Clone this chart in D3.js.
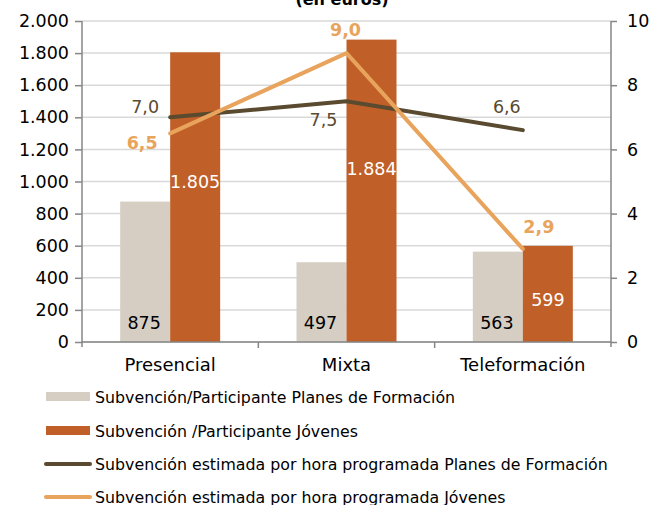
<!DOCTYPE html>
<meta charset="utf-8">
<html>
<head><title>subvención por participante</title>
    <script src="https://d3js.org/d3.v7.min.js"></script>
    <style>
        body { margin: 0; background: #fff; }
        text { font-family: "DejaVu Sans", Verdana, sans-serif; }
        .grid line { stroke: #d9d9d9; stroke-width: 1.5; }
        .axis path, .axis line { stroke: #868686; stroke-width: 1.5; }
        .axis text { font-size: 17.5px; fill: #000; }
    </style>
</head>
<body>
<div id="chart"></div>
<script>

    var W = 651, H = 505;

    // data
    var categories = ["Presencial", "Mixta", "Teleformación"];
    var partPlanes = [875, 497, 563];
    var partJovenes = [1805, 1884, 599];
    var horaPlanes = [7.0, 7.5, 6.6];
    var horaJovenes = [6.5, 9.0, 2.9];
    // height (in euros) where the white labels sit inside the orange bars
    var jovenesLabelAt = [1000, 1080, 262];
    var leftTicks = [0, 200, 400, 600, 800, 1000, 1200, 1400, 1600, 1800, 2000];
    var rightTicks = [0, 2, 4, 6, 8, 10];
    var legendNames = [
        "Subvención/Participante Planes de Formación",
        "Subvención /Participante Jóvenes",
        "Subvención estimada por hora programada Planes de Formación",
        "Subvención estimada por hora programada Jóvenes"
    ];

    var cGray = "#d6cec2", cOrange = "#c05f27", cBrown = "#594a30", cLight = "#e8a45c";

    var pL = 82, pR = 611, pT = 21, pB = 342;

    var svg = d3.select("#chart").append("svg")
        .attr("width", W).attr("height", H);

    var x = d3.scaleBand().domain(categories).range([pL, pR]);
    var y = d3.scaleLinear().domain([0, 2000]).range([pB, pT]);
    var y2 = d3.scaleLinear().domain([0, 10]).range([pB, pT]);
    var barW = 50;
    var cx = function(i) { return x(categories[i]) + x.bandwidth() / 2; };

    // title (cut at the top)
    svg.append("text").attr("x", 342).attr("y", 5)
        .attr("text-anchor", "middle").style("font-weight", "bold").style("font-size", "16px")
        .text("(en euros)");

    // gridlines
    svg.append("g").attr("class", "grid")
        .selectAll("line").data(leftTicks).enter().append("line")
        .attr("x1", pL).attr("x2", pR)
        .attr("y1", function(d) { return y(d); }).attr("y2", function(d) { return y(d); });

    // bars
    svg.append("g").selectAll("rect").data(partPlanes).enter().append("rect")
        .attr("x", function(d, i) { return cx(i) - barW; })
        .attr("y", function(d) { return y(d); })
        .attr("width", barW).attr("height", function(d) { return pB - y(d); })
        .attr("fill", cGray);
    svg.append("g").selectAll("rect").data(partJovenes).enter().append("rect")
        .attr("x", function(d, i) { return cx(i); })
        .attr("y", function(d) { return y(d); })
        .attr("width", barW).attr("height", function(d) { return pB - y(d); })
        .attr("fill", cOrange);

    var fmt = function(v) { return d3.format(",")(v).replace(/,/g, "."); };
    var fmt1 = function(v) { return v.toFixed(1).replace(".", ","); };

    svg.append("g").selectAll("text").data(partPlanes).enter().append("text")
        .attr("x", function(d, i) { return cx(i) - barW / 2 - 1; })
        .attr("y", y(0) - 13)
        .attr("text-anchor", "middle").style("font-size", "17.5px").attr("fill", "#000")
        .text(fmt);
    svg.append("g").selectAll("text").data(partJovenes).enter().append("text")
        .attr("x", function(d, i) { return cx(i) + barW / 2; })
        .attr("y", function(d, i) { return y(jovenesLabelAt[i]) + 6; })
        .attr("text-anchor", "middle").style("font-size", "17.5px").attr("fill", "#fff")
        .text(fmt);

    // axes
    var yAxis = d3.axisLeft(y).tickValues(leftTicks).tickSize(7).tickPadding(6)
        .tickFormat(fmt);
    svg.append("g").attr("class", "axis").attr("transform", "translate(" + pL + ",0)")
        .call(yAxis).call(function(g) { g.select(".domain").attr("d", "M0," + pT + "V" + (pB + 5)); });

    var y2Axis = d3.axisRight(y2).tickValues(rightTicks).tickSize(6).tickPadding(10);
    svg.append("g").attr("class", "axis").attr("transform", "translate(" + pR + ",0)")
        .call(y2Axis).call(function(g) { g.select(".domain").attr("d", "M0," + pT + "V" + (pB + 5)); });

    var xAxis = d3.axisBottom(x).tickSize(0).tickPadding(16);
    var gx = svg.append("g").attr("class", "axis").attr("transform", "translate(0," + pB + ")")
        .call(xAxis);
    gx.selectAll("text").style("font-size", "18px");
    gx.select(".domain").attr("d", "M" + pL + ",0H" + pR);
    gx.selectAll(".sep").data(categories.slice(1)).enter().append("line")
        .attr("class", "sep")
        .attr("x1", function(d) { return x(d); }).attr("x2", function(d) { return x(d); })
        .attr("y1", 0).attr("y2", 6);

    // lines
    var lineB = d3.line().x(function(d, i) { return cx(i); }).y(function(d) { return y2(d); });
    svg.append("path").datum(horaPlanes).attr("d", lineB)
        .attr("fill", "none").attr("stroke", cBrown).attr("stroke-width", 4)
        .attr("stroke-linecap", "round").attr("stroke-linejoin", "round");
    svg.append("path").datum(horaJovenes).attr("d", lineB)
        .attr("fill", "none").attr("stroke", cLight).attr("stroke-width", 4)
        .attr("stroke-linecap", "round").attr("stroke-linejoin", "round");

    // line labels: offset from point [dx, dy]
    var brownOff = [[-25, -4], [-23, 25], [-16, -17]];
    var lightOff = [[-28, 16], [-1, -17], [16, -16]];
    svg.append("g").selectAll("text").data(horaPlanes).enter().append("text")
        .attr("x", function(d, i) { return cx(i) + brownOff[i][0]; })
        .attr("y", function(d, i) { return y2(d) + brownOff[i][1]; })
        .attr("text-anchor", "middle").style("font-size", "17.5px").attr("fill", cBrown)
        .text(fmt1);
    svg.append("g").selectAll("text").data(horaJovenes).enter().append("text")
        .attr("x", function(d, i) { return cx(i) + lightOff[i][0]; })
        .attr("y", function(d, i) { return y2(d) + lightOff[i][1]; })
        .attr("text-anchor", "middle").style("font-size", "17.5px").style("font-weight", "bold")
        .attr("fill", cLight)
        .text(fmt1);

    // legend
    var legY = [397, 431, 464, 497];
    var leg = svg.append("g").selectAll("g").data(legendNames).enter().append("g")
        .attr("transform", function(d, i) { return "translate(0," + legY[i] + ")"; });
    leg.each(function(d, i) {
        var g = d3.select(this);
        if (i < 2) {
            g.append("rect").attr("x", 46).attr("y", -5).attr("width", 44).attr("height", 9)
                .attr("fill", i === 0 ? cGray : cOrange);
        } else {
            g.append("line").attr("x1", 46).attr("x2", 90).attr("y1", 0).attr("y2", 0)
                .attr("stroke", i === 2 ? cBrown : cLight).attr("stroke-width", 4)
                .attr("stroke-linecap", "round");
        }
        g.append("text").attr("x", 95).attr("y", 5.5).style("font-size", "15.8px").attr("fill", "#000")
            .text(d);
    });

</script>
</body>
</html>
